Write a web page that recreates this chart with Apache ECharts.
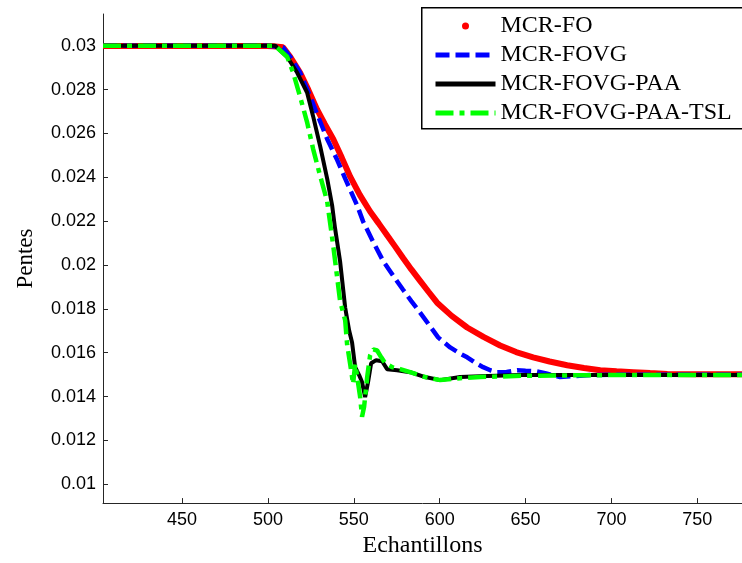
<!DOCTYPE html>
<html>
<head>
<meta charset="utf-8">
<script src="https://cdn.jsdelivr.net/npm/echarts@6/dist/echarts.min.js"></script>
<style>
html,body{margin:0;padding:0;background:#fff;}
#chart{width:742px;height:563px;}
</style>
</head>
<body>
<div id="chart"></div>
<script>
// Series names
const seriesNames = ['MCR-FO', 'MCR-FOVG', 'MCR-FOVG-PAA', 'MCR-FOVG-PAA-TSL'];

// MCR-FO (red dots)
const foX = [404, 450, 499.5, 503, 508.8, 513, 518.7, 523.5, 528.6, 533, 538, 543, 547.9, 553.5, 559.5, 564.5, 569.4, 574, 578.7, 583.5, 588.6, 593.5, 598.5, 607, 616, 625.5, 635.2, 644.5, 654.4, 664, 674.2, 684, 693.5, 703, 712.7, 722.5, 732.5, 750, 776];
const foY = [0.02999, 0.02999, 0.02999, 0.02998, 0.02993, 0.02950, 0.02878, 0.02800, 0.02710, 0.02645, 0.02575, 0.02490, 0.02403, 0.02320, 0.02244, 0.02190, 0.02136, 0.02085, 0.02032, 0.01980, 0.01928, 0.01878, 0.01828, 0.01768, 0.01715, 0.01672, 0.01633, 0.01603, 0.01579, 0.01560, 0.01543, 0.01530, 0.01520, 0.01515, 0.01511, 0.01507, 0.01503, 0.01502, 0.01502];

// MCR-FOVG (blue dashed)
const fovgX = [404, 450, 499.5, 503, 508.8, 513, 518.7, 524.6, 529.5, 534.5, 540, 545, 552, 555.4, 561, 567.1, 573, 578.7, 583.5, 588.6, 594, 599.1, 606.1, 611, 616, 620.5, 625.3, 629.5, 633.5, 639, 645.1, 650, 655.6, 662, 670, 678, 687.6, 700, 720, 750, 776];
const fovgY = [0.03, 0.03, 0.03, 0.02998, 0.02993, 0.02950, 0.02878, 0.02769, 0.02672, 0.02575, 0.02485, 0.02394, 0.02271, 0.02199, 0.02110, 0.02018, 0.01950, 0.01887, 0.01835, 0.01783, 0.01725, 0.01670, 0.01624, 0.01600, 0.01579, 0.01555, 0.01534, 0.01520, 0.01511, 0.01512, 0.01520, 0.01518, 0.01516, 0.01505, 0.01489, 0.01493, 0.01498, 0.01500, 0.01500, 0.01500, 0.01500];

// MCR-FOVG-PAA (black solid)
const paaX = [404, 450, 500, 504.2, 511.2, 517, 522.8, 526.3, 530.4, 534.5, 537.4, 539.1, 542, 545, 547.3, 548.4, 549, 550.8, 553.1, 554.8, 556.6, 558.3, 560.1, 563, 566.5, 569.4, 575.2, 582.8, 591.5, 600.3, 611.9, 623.6, 646.9, 693.5, 740, 776];
const paaY = [0.03, 0.03, 0.03, 0.03, 0.02950, 0.02878, 0.02787, 0.02679, 0.02543, 0.02394, 0.02271, 0.02167, 0.02018, 0.01805, 0.01701, 0.01701, 0.01647, 0.01534, 0.01498, 0.01466, 0.01398, 0.01466, 0.01552, 0.01566, 0.01561, 0.01525, 0.01520, 0.01511, 0.01489, 0.01475, 0.01489, 0.01493, 0.01498, 0.01498, 0.01498, 0.01498];

// MCR-FOVG-PAA-TSL (green dash-dot)
const tslX = [404, 450, 500, 504.2, 511.2, 514.7, 518.7, 522.8, 526.3, 530.4, 534.5, 538, 542, 545, 546.1, 547.9, 549, 549.6, 550.8, 552, 553.7, 554.8, 556, 557.8, 559.5, 561.3, 563.6, 566, 568.3, 572.4, 577, 582.8, 591.5, 600.3, 611.9, 623.6, 650, 700, 740, 776];
const tslY = [0.03, 0.03, 0.03, 0.03, 0.02950, 0.02878, 0.02769, 0.02652, 0.02530, 0.02407, 0.02290, 0.02090, 0.01837, 0.01747, 0.01638, 0.01548, 0.01489, 0.01457, 0.01548, 0.01489, 0.01398, 0.01308, 0.01353, 0.01489, 0.01588, 0.01615, 0.01610, 0.01579, 0.01552, 0.01534, 0.01525, 0.01511, 0.01489, 0.01475, 0.01484, 0.01489, 0.01495, 0.01498, 0.01498, 0.01498];

// Tick labels
const xTicks = [450, 500, 550, 600, 650, 700, 750];
const yTicks = [0.01, 0.012, 0.014, 0.016, 0.018, 0.02, 0.022, 0.024, 0.026, 0.028, 0.03];
const yTickLabels = ['0.01', '0.012', '0.014', '0.016', '0.018', '0.02', '0.022', '0.024', '0.026', '0.028', '0.03'];

const zip = (xs, ys) => xs.map((x, i) => [x, ys[i]]);

const chart = echarts.init(document.getElementById('chart'), null, {renderer: 'canvas'});
const axisColor = '#262626';
const labelFont = {fontFamily: 'Liberation Sans, Arial, sans-serif', fontSize: 18, color: '#000'};
const serif = 'Liberation Serif, Times New Roman, serif';

chart.setOption({
  animation: false,
  backgroundColor: '#fff',
  grid: {left: 103, right: 0, top: 14, bottom: 56, containLabel: false},
  graphic: [{
    type: 'rect', left: 421, top: 7, z: 50, silent: true,
    shape: {width: 340, height: 121},
    style: {fill: '#fff', stroke: '#000', lineWidth: 1.5}
  }],
  legend: {
    orient: 'vertical',
    left: 421, top: 7,
    padding: [7, 10, 4, 12],
    itemGap: 5,
    itemWidth: 60,
    itemHeight: 7,
    z: 60,
    itemStyle: {opacity: 0},
    lineStyle: {width: 5},
    textStyle: {fontFamily: serif, fontSize: 24, color: '#000'},
    data: [
      {name: seriesNames[0], icon: 'circle', itemStyle: {color: '#ff0000', opacity: 1}},
      {name: seriesNames[1]},
      {name: seriesNames[2]},
      {name: seriesNames[3]}
    ]
  },
  xAxis: {
    type: 'value',
    min: 404, max: 776,
    name: 'Echantillons',
    nameLocation: 'middle',
    nameGap: 30,
    nameTextStyle: {fontFamily: serif, fontSize: 24, color: '#000'},
    axisLine: {show: true, onZero: false, lineStyle: {color: axisColor, width: 1}},
    axisTick: {show: true, inside: true, length: 5, lineStyle: {color: axisColor}, customValues: xTicks},
    axisLabel: Object.assign({margin: 8, customValues: xTicks, formatter: v => String(v)}, labelFont),
    splitLine: {show: false}
  },
  yAxis: {
    type: 'value',
    min: 0.00914, max: 0.03145,
    name: 'Pentes',
    nameLocation: 'middle',
    nameGap: 66,
    nameRotate: 90,
    nameTextStyle: {fontFamily: serif, fontSize: 23, color: '#000'},
    axisLine: {show: true, onZero: false, lineStyle: {color: axisColor, width: 1}},
    axisTick: {show: true, inside: true, length: 5, lineStyle: {color: axisColor}, customValues: yTicks},
    axisLabel: Object.assign({margin: 7, customValues: yTicks, formatter: v => {
      const i = yTicks.findIndex(t => Math.abs(t - v) < 1e-9);
      return i >= 0 ? yTickLabels[i] : String(v);
    }}, labelFont),
    splitLine: {show: false}
  },
  series: [
    {
      name: seriesNames[0], type: 'line', data: zip(foX, foY),
      showSymbol: false, symbol: 'circle', symbolSize: 6,
      itemStyle: {color: '#ff0000'},
      lineStyle: {color: '#ff0000', width: 6}, z: 1
    },
    {
      name: seriesNames[1], type: 'line', data: zip(fovgX, fovgY),
      showSymbol: false, symbol: 'none',
      itemStyle: {color: '#0000ff'},
      lineStyle: {color: '#0000ff', width: 4.5, type: [14, 6]}, z: 2
    },
    {
      name: seriesNames[2], type: 'line', data: zip(paaX, paaY),
      showSymbol: false, symbol: 'none',
      itemStyle: {color: '#000000'},
      lineStyle: {color: '#000000', width: 4}, z: 3
    },
    {
      name: seriesNames[3], type: 'line', data: zip(tslX, tslY),
      showSymbol: false, symbol: 'none',
      itemStyle: {color: '#00ff00'},
      lineStyle: {color: '#00ff00', width: 4.5, type: [18, 6, 5, 6]}, z: 4
    }
  ]
});
</script>
</body>
</html>
